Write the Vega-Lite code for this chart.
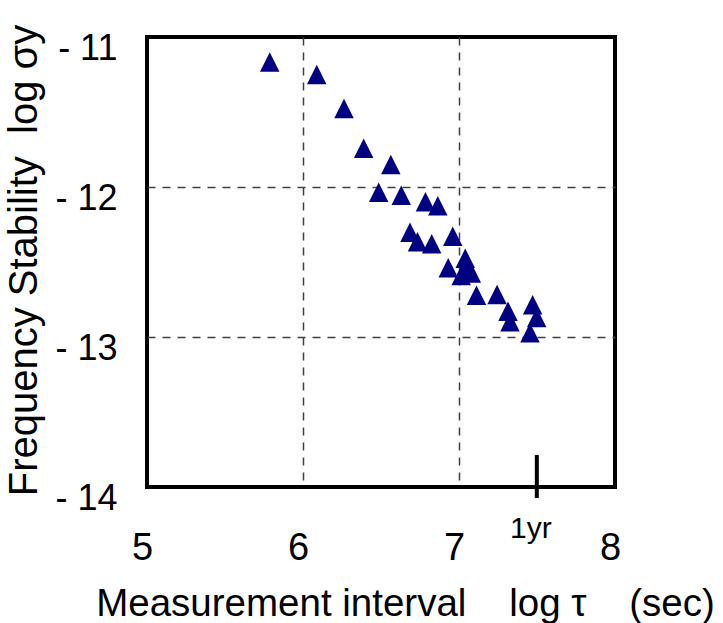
{
  "$schema": "https://vega.github.io/schema/vega-lite/v6.json",
  "autosize": "none",
  "padding": {"left": 147, "top": 37, "right": 108, "bottom": 136},
  "width": 468,
  "height": 450,
  "background": "white",
  "config": {
    "font": "Liberation Sans",
    "view": {"stroke": "black", "strokeWidth": 4}
  },
  "datasets": {
    "pts": [
      {"logtau": 5.787, "logsigma": -11.167},
      {"logtau": 6.088, "logsigma": -11.250},
      {"logtau": 6.263, "logsigma": -11.477},
      {"logtau": 6.389, "logsigma": -11.742},
      {"logtau": 6.563, "logsigma": -11.850},
      {"logtau": 6.485, "logsigma": -12.035},
      {"logtau": 6.630, "logsigma": -12.055},
      {"logtau": 6.785, "logsigma": -12.098},
      {"logtau": 6.864, "logsigma": -12.125},
      {"logtau": 6.686, "logsigma": -12.302},
      {"logtau": 6.734, "logsigma": -12.365},
      {"logtau": 6.825, "logsigma": -12.378},
      {"logtau": 6.960, "logsigma": -12.329},
      {"logtau": 7.040, "logsigma": -12.475},
      {"logtau": 7.051, "logsigma": -12.520},
      {"logtau": 6.931, "logsigma": -12.539},
      {"logtau": 7.014, "logsigma": -12.590},
      {"logtau": 7.079, "logsigma": -12.573},
      {"logtau": 7.112, "logsigma": -12.722},
      {"logtau": 7.244, "logsigma": -12.717},
      {"logtau": 7.314, "logsigma": -12.828},
      {"logtau": 7.327, "logsigma": -12.898},
      {"logtau": 7.472, "logsigma": -12.785},
      {"logtau": 7.498, "logsigma": -12.870},
      {"logtau": 7.455, "logsigma": -12.972}
    ],
    "year": [
      {"logtau": 7.4988, "top": -13.787, "bottom": -14.073, "labelY": -14.34, "label": "1yr"}
    ]
  },
  "layer": [
    {
      "data": {"name": "pts"},
      "mark": {"type": "point", "shape": "M0,-1L1,1L-1,1Z", "filled": true, "size": 380, "color": "#000080", "opacity": 1, "strokeWidth": 0},
      "encoding": {
        "x": {
          "field": "logtau", "type": "quantitative",
          "scale": {"domain": [5, 8], "nice": false, "zero": false},
          "axis": {
            "values": [5, 6, 7, 8],
            "format": "d",
            "title": "Measurement interval\u00a0\u00a0\u00a0\u00a0log τ\u00a0\u00a0\u00a0\u00a0(sec)",
            "titleFontSize": 38.5, "titleFontWeight": "normal", "titleColor": "black",
            "titleX": 258, "titleY": 128, "titleBaseline": "alphabetic", "titleAlign": "center", "titleAnchor": "middle",
            "labelFontSize": 38, "labelColor": "black", "labelPadding": 42, "labelOffset": -5, "labelBaseline": "top",
            "labelFlush": false, "labelOverlap": false, "labelBound": false,
            "ticks": false, "domain": false,
            "grid": true, "gridColor": "#404040", "gridWidth": 1.5, "gridDash": [8, 7],
            "gridOpacity": {"condition": {"test": "datum.value == 6 || datum.value == 7", "value": 1}, "value": 0}
          }
        },
        "y": {
          "field": "logsigma", "type": "quantitative",
          "scale": {"domain": [-14, -11], "nice": false, "zero": false},
          "axis": {
            "values": [-14, -13, -12, -11],
            "labelExpr": "'- ' + (-datum.value)",
            "title": "Frequency Stability\u00a0\u00a0log σy",
            "titleFontSize": 40, "titleFontWeight": "normal", "titleColor": "black",
            "titleAngle": -90, "titleX": -111, "titleY": 223, "titleBaseline": "alphabetic", "titleAlign": "center", "titleAnchor": "middle",
            "labelFontSize": 36, "labelColor": "black", "labelPadding": 30, "labelOffset": 11, "labelAlign": "right",
            "labelFlush": false, "labelOverlap": false, "labelBound": false,
            "ticks": false, "domain": false,
            "grid": true, "gridColor": "#404040", "gridWidth": 1.5, "gridDash": [8, 7],
            "gridOpacity": {"condition": {"test": "datum.value == -12 || datum.value == -13", "value": 1}, "value": 0}
          }
        }
      }
    },
    {
      "data": {"name": "year"},
      "mark": {"type": "rule", "color": "black", "strokeWidth": 4},
      "encoding": {
        "x": {"field": "logtau", "type": "quantitative"},
        "y": {"field": "top", "type": "quantitative"},
        "y2": {"field": "bottom"}
      }
    },
    {
      "data": {"name": "year"},
      "mark": {"type": "text", "fontSize": 30, "color": "black", "baseline": "alphabetic", "align": "center", "dx": -6},
      "encoding": {
        "x": {"field": "logtau", "type": "quantitative"},
        "y": {"field": "labelY", "type": "quantitative"},
        "text": {"field": "label"}
      }
    }
  ]
}
